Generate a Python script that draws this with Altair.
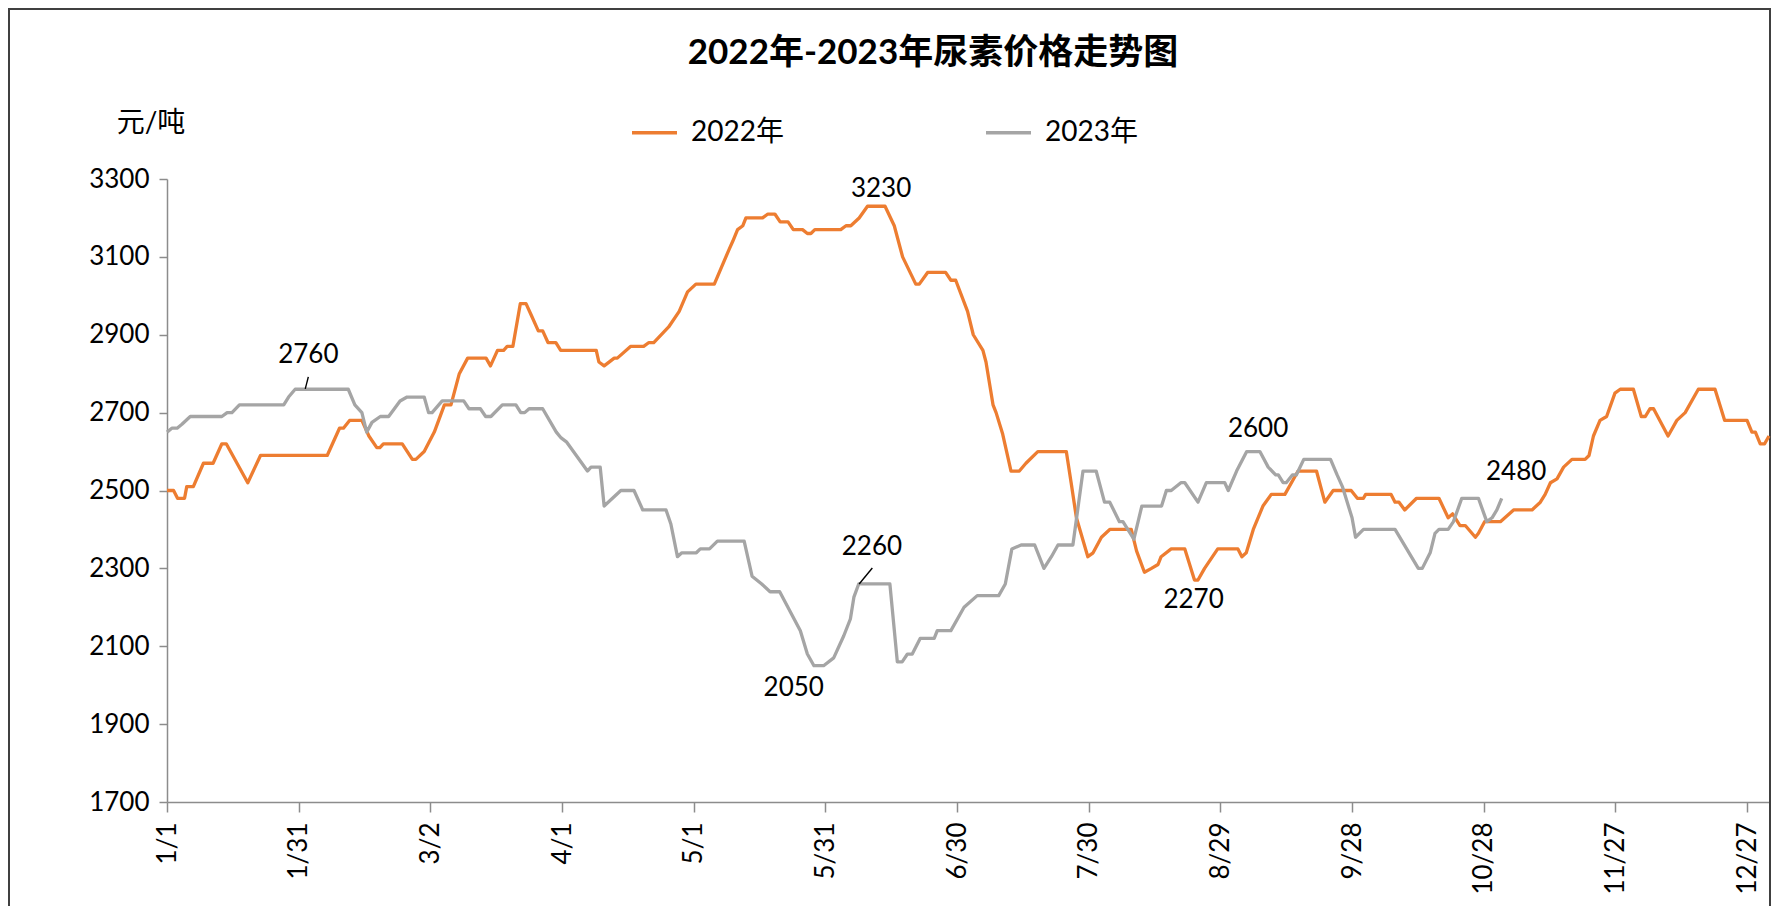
import altair as alt
import pandas as pd

# ---------------- data ----------------
series_names = ["2022年", "2023年"]
series_colors = ["#ED7D31", "#A5A5A5"]

# 2022 (day index from 1/1 = 0, price 元/吨)
o_day = [0, 1.5, 2.4, 4, 4.5, 6, 8.3, 10.5, 12.5, 13.5,
         18.4, 21.3, 36.5, 39.3, 40.2, 41.6, 44.4, 46, 47.8, 48.5,
         49.3, 53.6, 55.9, 56.7, 58.6, 60.9, 63.2, 64.7, 66.6, 68.5,
         72.7, 73.7, 75.3, 76.7, 77.5, 78.8, 80.5, 81.8, 83, 84.6,
         85.6, 86.8, 88.6, 89.7, 97.8, 98.4, 99.6, 101.9, 102.6, 105.6,
         108.6, 109.8, 110.9, 114.3, 116.7, 118.6, 120.5, 124.7, 126.2, 128.1,
         128.9, 130, 131.2, 131.9, 135.7, 136.9, 138.5, 139.7, 141.5, 142.7,
         144.8, 145.9, 146.7, 147.6, 153.5, 154.7, 155.8, 157.7, 159.6, 163.6,
         165.7, 167.6, 170.6, 171.4, 173.3, 177.4, 178.6, 179.7, 182.4, 183.7,
         185.9, 186.6, 188.2, 188.9, 190.4, 192.3, 194.2, 195.7, 198.4, 204.9,
         206, 207.2, 209.8, 211, 212.9, 214.8, 219.7, 220.9, 222.7, 224.3,
         225.8, 226.5, 228.8, 231.9, 234.1, 234.9, 236.4, 239.4, 244, 244.9,
         245.9, 247.5, 249.7, 251.6, 254.7, 257.7, 261.9, 263.8, 265.7, 269.8,
         271.2, 272.6, 273.1, 278.9, 279.8, 280.7, 282, 284.7, 289.8, 291.9,
         292.9, 294.6, 295.8, 298.1, 298.8, 300.2, 303.8, 306.8, 311, 312.9,
         314, 315.2, 316.7, 318.2, 320.1, 323.1, 324, 325, 326.5, 328,
         329.9, 331.1, 334.1, 335.9, 336.8, 337.9, 338.7, 342, 344, 345.9,
         348.9, 352.7, 354.9, 360, 361.1, 361.9, 363, 364, 365]
o_price = [2500, 2500, 2480, 2480, 2510, 2510, 2570, 2570, 2620, 2620,
           2520, 2590, 2590, 2660, 2660, 2680, 2680, 2640, 2610, 2610,
           2620, 2620, 2580, 2580, 2600, 2650, 2720, 2720, 2800, 2840,
           2840, 2820, 2860, 2860, 2870, 2870, 2980, 2980, 2950, 2910,
           2910, 2880, 2880, 2860, 2860, 2830, 2820, 2840, 2840, 2870,
           2870, 2880, 2880, 2920, 2960, 3010, 3030, 3030, 3070, 3120,
           3140, 3170, 3180, 3200, 3200, 3210, 3210, 3190, 3190, 3170,
           3170, 3160, 3160, 3170, 3170, 3180, 3180, 3200, 3230, 3230,
           3180, 3100, 3030, 3030, 3060, 3060, 3040, 3040, 2960, 2900,
           2860, 2830, 2720, 2700, 2645, 2550, 2550, 2570, 2600, 2600,
           2520, 2430, 2330, 2340, 2380, 2400, 2400, 2345, 2290, 2300,
           2310, 2330, 2350, 2350, 2270, 2270, 2300, 2350, 2350, 2330,
           2340, 2400, 2460, 2490, 2490, 2550, 2550, 2470, 2500, 2500,
           2480, 2480, 2490, 2490, 2470, 2470, 2450, 2480, 2480, 2430,
           2440, 2410, 2410, 2380, 2390, 2420, 2420, 2450, 2450, 2470,
           2490, 2520, 2530, 2560, 2580, 2580, 2590, 2640, 2680, 2690,
           2750, 2760, 2760, 2690, 2690, 2710, 2710, 2640, 2680, 2700,
           2760, 2760, 2680, 2680, 2650, 2650, 2620, 2620, 2640]

# 2023
g_day = [0, 1.1, 2.3, 3.4, 5.3, 12.5, 13.7, 14.8, 16.5, 26.6,
         27.7, 29.2, 41.3, 42.8, 44.4, 45.5, 46.7, 48.6, 50.5, 53.1,
         54.7, 58.6, 59.6, 60.4, 62.7, 67.6, 68.8, 71.4, 72.6, 73.8,
         76.4, 79.5, 80.6, 81.5, 82.5, 85.6, 88.7, 89.8, 91, 95.8,
         96.6, 98.7, 99.6, 103.4, 106.4, 108.4, 113.7, 114.8, 116.3, 117.3,
         120.6, 121.5, 123.6, 125.4, 131.5, 133.3, 135.5, 137.4, 139.6, 144.3,
         145.9, 147.4, 149.6, 151.9, 154.2, 155.7, 156.5, 157.6, 164.7, 166.4,
         167.5, 168.7, 169.8, 171.6, 174.8, 175.5, 178.6, 181.6, 184.6, 189.5,
         191, 192.5, 194.6, 197.7, 199.8, 201.5, 203, 206.4, 208.7, 211.7,
         213.6, 214.8, 217, 217.8, 220.3, 222.1, 226.6, 227.7, 228.8, 231,
         231.9, 234.9, 236.8, 241, 241.8, 243.7, 246, 249, 250.9, 252.6,
         253.2, 254.3, 255, 256.4, 257.3, 259, 265.1, 266.6, 267.8, 270,
         270.8, 272.6, 279.8, 285.1, 286, 287.8, 288.9, 289.8, 291.9, 293.1,
         295, 298.8, 300.7, 301.9, 303, 304.1]
g_price = [2650, 2660, 2660, 2670, 2690, 2690, 2700, 2700, 2720, 2720,
           2740, 2760, 2760, 2720, 2700, 2650, 2675, 2690, 2690, 2730,
           2740, 2740, 2700, 2700, 2730, 2730, 2710, 2710, 2690, 2690,
           2720, 2720, 2700, 2700, 2710, 2710, 2650, 2635, 2625, 2550,
           2560, 2560, 2460, 2500, 2500, 2450, 2450, 2414, 2330, 2340,
           2340, 2350, 2350, 2370, 2370, 2280, 2260, 2240, 2240, 2140,
           2080, 2050, 2050, 2070, 2127, 2170, 2226, 2260, 2260, 2060,
           2060, 2080, 2080, 2120, 2120, 2140, 2140, 2200, 2230, 2230,
           2260, 2350, 2360, 2360, 2300, 2330, 2360, 2360, 2550, 2550,
           2470, 2470, 2420, 2420, 2375, 2460, 2460, 2500, 2500, 2520,
           2520, 2470, 2520, 2520, 2500, 2550, 2600, 2600, 2560, 2540,
           2540, 2520, 2520, 2540, 2540, 2580, 2580, 2540, 2510, 2430,
           2380, 2400, 2400, 2300, 2300, 2340, 2390, 2400, 2400, 2420,
           2480, 2480, 2420, 2430, 2450, 2480]

x_tick_days = [0, 30, 60, 90, 120, 150, 180, 210, 240, 270, 300, 330, 360]
x_tick_labels = ["1/1", "1/31", "3/2", "4/1", "5/1", "5/31", "6/30",
                 "7/30", "8/29", "9/28", "10/28", "11/27", "12/27"]
y_ticks = [1700, 1900, 2100, 2300, 2500, 2700, 2900, 3100, 3300]

# data labels (text, position in data units)
lab_text = ["2760", "3230", "2260", "2050", "2270", "2600", "2480"]
lab_day = [32.2, 162.7, 160.6, 142.8, 233.9, 248.6, 307.4]
lab_price = [2849, 3275, 2354, 1993, 2220, 2658, 2547]

# leader lines
lead_day = [32.2, 160.7]
lead_price = [2792, 2301]
lead_day2 = [31.5, 157.7]
lead_price2 = [2761, 2260]

title_text = "2022年-2023年尿素价格走势图"
unit_text = "元/吨"

# ---------------- chart ----------------
assert len(o_day) == len(o_price) and len(g_day) == len(g_price)

FONT = "Lato, Noto Sans CJK SC, sans-serif"
AXIS_GRAY = "#8C8C8C"

df = pd.concat([
    pd.DataFrame({"day": o_day, "price": o_price, "series": series_names[0]}),
    pd.DataFrame({"day": g_day, "price": g_price, "series": series_names[1]}),
])

label_expr = "[" + ",".join("'%s'" % s for s in x_tick_labels) + "][round(datum.value/30)]"

x_enc = alt.X("day:Q",
              scale=alt.Scale(domain=[0, 365], nice=False, zero=False),
              axis=alt.Axis(values=x_tick_days, labelExpr=label_expr, title=None,
                            grid=False, labelAngle=270, labelFontSize=26,
                            labelFont=FONT, labelColor="#000000", labelPadding=10,
                            tickSize=10, tickColor=AXIS_GRAY, tickWidth=1.5,
                            domainColor=AXIS_GRAY, domainWidth=1.5,
                            labelOverlap=False, labelFlush=False, labelBound=False))
y_enc = alt.Y("price:Q",
              scale=alt.Scale(domain=[1700, 3300], nice=False, zero=False),
              axis=alt.Axis(values=y_ticks, title=None, grid=False, format="d",
                            labelFontSize=26, labelFont=FONT, labelColor="#000000",
                            labelPadding=10, tickSize=8, tickColor=AXIS_GRAY,
                            tickWidth=1.5, domainColor=AXIS_GRAY, domainWidth=1.5,
                            labelOverlap=False, labelFlush=False, labelBound=False))

lines = alt.Chart(df).mark_line(strokeWidth=3.3, strokeJoin="round").encode(
    x=x_enc,
    y=y_enc,
    color=alt.Color("series:N",
                    scale=alt.Scale(domain=series_names, range=series_colors),
                    legend=alt.Legend(title=None, orient="none", direction="horizontal",
                                      legendX=463, legendY=-71,
                                      symbolType="stroke", symbolSize=2025,
                                      symbolStrokeWidth=3.5,
                                      labelFontSize=28, labelFont=FONT,
                                      labelColor="#000000", labelOffset=12,
                                      columnPadding=195)),
)

labels_df = pd.DataFrame({"day": lab_day, "price": lab_price, "t": lab_text})
labels = alt.Chart(labels_df).mark_text(
    fontSize=26, font=FONT, color="#000000", align="center", baseline="middle"
).encode(x=x_enc, y=y_enc, text="t:N")

lead_df = pd.DataFrame({"day": lead_day, "price": lead_price,
                        "day2": lead_day2, "price2": lead_price2})
leaders = alt.Chart(lead_df).mark_rule(color="#000000", strokeWidth=1.4).encode(
    x=x_enc, y=y_enc, x2="day2:Q", y2="price2:Q")

title = alt.Chart(pd.DataFrame({"t": [title_text]})).mark_text(
    fontSize=35, fontWeight="bold", font=FONT, color="#000000",
    align="center", baseline="middle"
).encode(x=alt.value(766), y=alt.value(-126), text="t:N")

unit = alt.Chart(pd.DataFrame({"t": [unit_text]})).mark_text(
    fontSize=28, font=FONT, color="#000000", align="center", baseline="middle"
).encode(x=alt.value(-16), y=alt.value(-55), text="t:N")

frame = alt.Chart(pd.DataFrame({"a": [0]})).mark_rect(
    fill="#FFFFFF", fillOpacity=0, stroke="#404040", strokeWidth=2
).encode(x=alt.value(-158), x2=alt.value(1603), y=alt.value(-170), y2=alt.value(760))

chart = alt.layer(frame, lines, leaders, labels, title, unit).properties(
    width=1602, height=623,
    padding={"left": 159, "top": 171, "right": 2, "bottom": 104},
    autosize=alt.AutoSizeParams(type="none"),
    background="#FFFFFF",
).configure_view(stroke=None)

chart.save("out.html", embed_options={"renderer": "svg", "actions": False})
